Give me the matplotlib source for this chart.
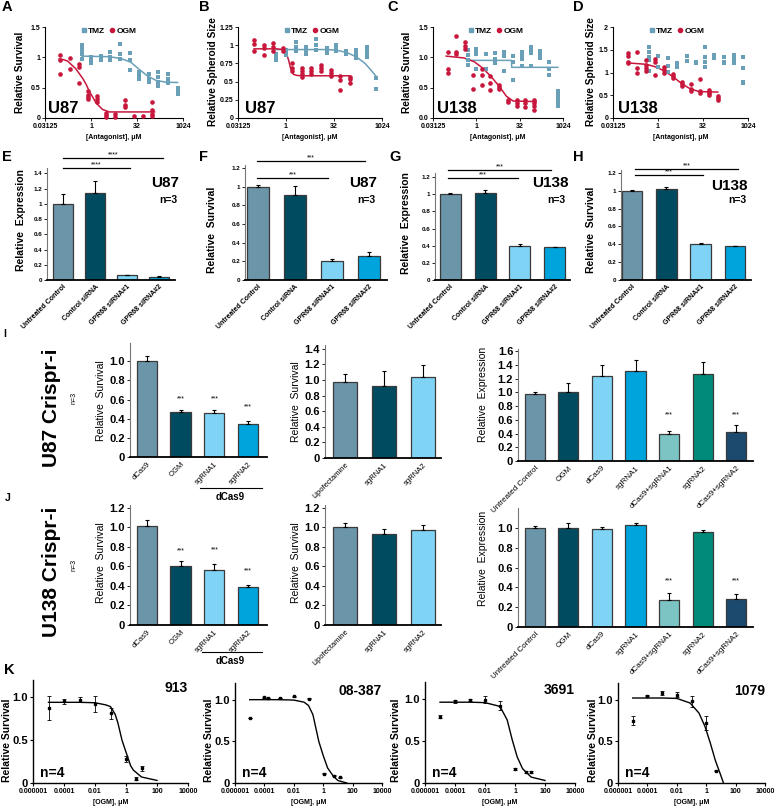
import numpy as np
import matplotlib
matplotlib.use('Agg')
import matplotlib.pyplot as plt
from matplotlib.lines import Line2D
from matplotlib.ticker import NullLocator

plt.rcParams['font.family'] = ['Liberation Sans', 'DejaVu Sans']
plt.rcParams['axes.linewidth'] = 0.8

# ---------------- data: dose response (A-D) ----------------
tmz_dose = [0.5, 1, 2.1, 4.3, 9, 19, 38, 77, 160, 340, 680]
ogm_dose = [0.1, 0.2, 0.39, 0.78, 1.56, 3.1, 6.25, 12.5, 25, 50, 100]

a_tmz = [[1.2, 1.14, 1.11, 1.06, 0.97], [1.0, 0.95, 0.91], [1.03, 0.95], [1.09, 1.0, 0.96],
         [1.22, 1.06, 0.98], [1.07, 0.95, 0.79], [0.76, 0.71, 0.65], [0.73, 0.65, 0.6],
         [0.76, 0.68, 0.6, 0.52], [0.73, 0.65, 0.57], [0.49, 0.43, 0.4]]
a_ogm = [[1.04, 0.96, 0.72], [0.99, 0.81], [0.89, 0.84, 0.57], [0.44, 0.38, 0.35, 0.32],
         [0.37, 0.32, 0.27], [0.09, 0.05, 0.02], [0.06, 0.02], [0.29, 0.22, 0.18],
         [0.03], [0.03], [0.26, 0.14, 0.07, 0.03]]
a_tmz_fit_x = [0.5, 4, 9.6, 20, 38, 72, 134, 284, 680]
a_tmz_fit_y = [1.02, 1.01, 0.98, 0.92, 0.8, 0.69, 0.62, 0.59, 0.585]
a_ogm_fit_x = [0.09, 0.12, 0.17, 0.32, 0.54, 0.7, 0.88, 1.15, 1.45, 2.4, 4, 6, 120]
a_ogm_fit_y = [0.97, 0.965, 0.94, 0.81, 0.65, 0.55, 0.44, 0.34, 0.25, 0.14, 0.1, 0.1, 0.1]

b_tmz = [[0.88, 0.84, 0.79], [0.94, 0.9, 0.86], [1.04, 0.98, 0.92], [0.98, 0.94, 0.88],
         [1.08, 1.0, 0.94], [0.96, 0.93, 0.89], [1.0, 0.96, 0.92], [0.92, 0.88],
         [0.94, 0.88, 0.82], [0.98, 0.94, 0.89, 0.84], [0.55, 0.4]]
b_ogm = [[1.07, 1.02, 0.92], [1.0, 0.96, 0.87], [1.03, 0.98, 0.92], [0.96, 0.92],
         [0.76, 0.69, 0.64], [0.69, 0.64, 0.61, 0.57], [0.69, 0.64, 0.6], [0.73, 0.69, 0.64],
         [0.66, 0.62, 0.58], [0.58, 0.52, 0.38], [0.57, 0.53, 0.48]]
b_tmz_fit_x = [0.5, 20, 40, 80, 160, 300, 500, 680]
b_tmz_fit_y = [0.94, 0.94, 0.93, 0.9, 0.84, 0.75, 0.64, 0.57]
b_ogm_fit_x = [0.1, 0.5, 0.8, 1.0, 1.2, 1.4, 1.7, 2.2, 3, 100]
b_ogm_fit_y = [0.95, 0.95, 0.94, 0.9, 0.8, 0.68, 0.6, 0.585, 0.58, 0.58]

c_tmz = [[1.12, 1.04, 0.96, 0.88], [1.13, 1.1, 1.06, 0.8], [1.06, 0.8], [1.07, 0.98, 0.9],
         [1.08, 1.02, 0.77], [1.02, 0.93, 0.63], [1.08, 1.04, 0.98, 0.85],
         [1.17, 1.13, 1.07, 0.85], [1.1, 1.04, 0.99], [0.93, 0.8, 0.71],
         [0.44, 0.38, 0.33, 0.27, 0.19]]
c_ogm = [[1.08, 0.81, 0.74], [1.35, 1.08, 1.06], [1.26, 1.18, 1.14], [0.71, 0.48],
         [0.8, 0.71, 0.55], [0.7, 0.58, 0.46], [0.55, 0.51, 0.48], [0.3, 0.26],
         [0.3, 0.24, 0.2], [0.3, 0.24, 0.18], [0.3, 0.25, 0.19, 0.14]]
c_tmz_fit_x = [0.5, 16.5, 17, 680]
c_tmz_fit_y = [0.95, 0.95, 0.835, 0.835]
c_ogm_fit_x = [0.09, 0.37, 0.83, 1.6, 3.3, 6.8, 11, 19, 120]
c_ogm_fit_y = [1.02, 0.99, 0.93, 0.83, 0.68, 0.5, 0.36, 0.28, 0.27]

d_tmz = [[1.56, 1.45, 1.35, 1.27, 1.04], [1.36, 1.13], [1.31, 1.15, 1.02], [1.2, 1.13],
         [1.36, 1.26], [1.24, 1.2], [1.56, 1.35, 1.24, 1.13], [1.38, 1.31],
         [1.33, 1.24, 1.2], [1.38, 1.29, 1.2], [1.35, 1.1, 0.8, 0.76]]
d_ogm = [[1.42, 1.36, 1.24, 1.2], [1.44, 1.09, 1.0], [1.27, 1.16, 1.09, 1.04],
         [1.29, 1.24, 0.95], [1.13, 1.05, 1.0], [0.97, 0.92, 0.89], [0.8, 0.74, 0.71],
         [0.75, 0.63, 0.6], [0.85, 0.6, 0.56], [0.62, 0.58, 0.55, 0.51], [0.49, 0.44, 0.39]]
d_ogm_fit_x = [0.1, 0.41, 0.77, 1.47, 3.0, 6.1, 12, 24, 100]
d_ogm_fit_y = [1.21, 1.18, 1.13, 1.05, 0.92, 0.76, 0.64, 0.58, 0.57]

# ---------------- data: siRNA bars (E-H) ----------------
sirna_lbl = ['Untreated Control', 'Control siRNA', 'GPR68 siRNA#1', 'GPR68 siRNA#2']
e_val = [1.0, 1.14, 0.06, 0.04]
e_err = [0.13, 0.16, 0.01, 0.01]
f_val = [1.0, 0.91, 0.2, 0.26]
f_err = [0.02, 0.1, 0.02, 0.04]
g_val = [1.0, 1.01, 0.4, 0.38]
g_err = [0.01, 0.04, 0.02, 0.01]
h_val = [1.0, 1.02, 0.4, 0.38]
h_err = [0.01, 0.02, 0.01, 0.005]

# ---------------- data: CRISPRi bars (I-J) ----------------
crispr_lbl = ['dCas9', 'OGM', 'sgRNA1', 'sgRNA2']
lipo_lbl = ['Lipofectamine', 'sgRNA1', 'sgRNA2']
expr_lbl = ['Untreated Control', 'OGM', 'dCas9', 'sgRNA1', 'dCas9+sgRNA1', 'sgRNA2',
            'dCas9+sgRNA2']
i1_val = [1.0, 0.47, 0.46, 0.34]
i1_err = [0.05, 0.02, 0.03, 0.04]
i2_val = [0.97, 0.93, 1.04]
i2_err = [0.11, 0.19, 0.15]
i3_val = [0.98, 1.01, 1.24, 1.31, 0.40, 1.26, 0.42]
i3_err = [0.02, 0.13, 0.16, 0.16, 0.04, 0.18, 0.11]
j1_val = [1.01, 0.6, 0.56, 0.39]
j1_err = [0.07, 0.06, 0.07, 0.02]
j2_val = [1.0, 0.93, 0.97]
j2_err = [0.05, 0.05, 0.05]
j3_val = [1.0, 1.0, 0.99, 1.03, 0.27, 0.96, 0.28]
j3_err = [0.02, 0.05, 0.02, 0.02, 0.07, 0.02, 0.05]

# ---------------- data: patient lines (K) ----------------
k1_dose = [1e-5, 1e-4, 1e-3, 1e-2, 0.1, 1, 4.6, 10]
k1_mean = [0.87, 0.95, 0.97, 0.92, 0.81, 0.28, 0.05, 0.17]
k1_err = [0.14, 0.03, 0.03, 0.09, 0.06, 0.04, 0.02, 0.03]
k1_fit_x = [1e-5, 1e-3, 1e-2, 0.05, 0.1, 0.2, 0.3, 0.55, 1, 2, 3, 10, 100]
k1_fit_y = [0.94, 0.94, 0.935, 0.91, 0.89, 0.8, 0.7, 0.5, 0.36, 0.2, 0.15, 0.07, 0.03]

k2_dose = [1e-5, 1e-4, 1.9e-4, 1.1e-3, 1e-2, 0.1, 1.1, 5.4, 15]
k2_mean = [0.78, 1.03, 1.02, 1.02, 1.04, 1.01, 0.11, 0.09, 0.07]
k2_err = [0.005, 0.005, 0.005, 0.005, 0.005, 0.005, 0.005, 0.005, 0.005]
k2_fit_x = [1e-5, 1e-3, 1e-2, 0.05, 0.1, 0.2, 0.5, 1, 2, 5, 10, 40]
k2_fit_y = [1.0, 1.0, 0.995, 0.97, 0.93, 0.82, 0.5, 0.33, 0.18, 0.08, 0.03, 0.0]

k3_dose = [1e-5, 1e-4, 1e-3, 1e-2, 0.1, 1, 5.4, 12]
k3_mean = [0.79, 0.97, 0.99, 0.99, 0.92, 0.17, 0.13, 0.13]
k3_err = [0.02, 0.02, 0.01, 0.04, 0.05, 0.01, 0.01, 0.01]
k3_fit_x = [1e-5, 1e-3, 1e-2, 0.1, 0.3, 0.66, 1.4, 3.2, 12, 100]
k3_fit_y = [0.96, 0.96, 0.955, 0.91, 0.75, 0.51, 0.31, 0.17, 0.07, 0.03]

k4_dose = [1e-5, 1e-4, 1e-3, 1e-2, 0.1, 1, 4.5]
k4_mean = [0.75, 1.05, 1.08, 1.06, 0.98, 0.72, 0.15]
k4_err = [0.05, 0.01, 0.02, 0.03, 0.07, 0.08, 0.01]
k4_fit_x = [1e-5, 1e-3, 1e-2, 0.08, 0.32, 0.82, 1.9, 4.2, 9, 15]
k4_fit_y = [1.02, 1.02, 1.015, 0.96, 0.84, 0.68, 0.48, 0.27, 0.11, 0.0]

TMZ_C = '#6a9fb8'
OGM_C = '#c8173c'
C_GREY = '#6b95a8'
C_DARK = '#014b61'
C_LIGHT = '#7fd4f5'
C_BLUE = '#00a4dc'
C_TEAL_L = '#7cc4c4'
C_TEAL = '#008a7a'
C_NAVY = '#1c4a6e'

W, H = 778, 808
fig = plt.figure(figsize=(W / 100, H / 100), dpi=100)


def add_box(l, t, r, b):
    return fig.add_axes([l / W, 1 - b / H, (r - l) / W, (b - t) / H])


def ftext(x, y, s, **kw):
    kw.setdefault('ha', 'center')
    kw.setdefault('va', 'center')
    fig.text(x / W, 1 - y / H, s, **kw)


def fline(x0, x1, y, lw=0.8):
    fig.add_artist(Line2D([x0 / W, x1 / W], [1 - y / H, 1 - y / H], color='k', lw=lw))


def clean(ax):
    for s in ['top', 'right']:
        ax.spines[s].set_visible(False)


def dose_panel(box, tmz_y, ogm_y, fits, ymax, yticks, ytl, cell, leg_x, cell_x):
    ax = add_box(*box)
    for d, ys in zip(tmz_dose, tmz_y):
        ax.scatter([d] * len(ys), ys, marker='s', s=11, color=TMZ_C, lw=0, zorder=3, clip_on=False)
    for d, ys in zip(ogm_dose, ogm_y):
        ax.scatter([d] * len(ys), ys, marker='o', s=11, color=OGM_C, lw=0, zorder=3, clip_on=False)
    for fx, fy, c in fits:
        ax.plot(fx, fy, color=c, lw=1.1, zorder=2)
    ax.set_xscale('log', base=2)
    ax.set_xlim(0.03125, 1024)
    ax.set_xticks([0.03125, 1, 32, 1024])
    ax.set_xticklabels(['0.03125', '1', '32', '1024'], fontsize=5, fontweight='bold')
    ax.xaxis.set_minor_locator(NullLocator())
    ax.set_ylim(0, ymax)
    ax.set_yticks(yticks)
    ax.set_yticklabels(ytl, fontsize=5, fontweight='bold')
    ax.tick_params(length=2, width=0.6, pad=1.5)
    clean(ax)
    ax.set_xlabel('[Antagonist], μM', fontsize=5, fontweight='bold', labelpad=3)
    handles = [Line2D([], [], marker='s', ls='none', color=TMZ_C, ms=3.2),
               Line2D([], [], marker='o', ls='none', color=OGM_C, ms=3.0)]
    ax.legend(handles, ['TMZ', 'OGM'], loc='upper center', bbox_to_anchor=(leg_x, 1.06),
              ncol=2, frameon=False, handletextpad=0.1, columnspacing=0.4,
              handlelength=0.8, borderpad=0.2, prop=dict(weight='bold', size=6))
    ax.text(cell_x, 0.1, cell, transform=ax.transAxes, fontsize=12, fontweight='bold',
            ha='left', va='center')
    return ax


def bar_panel(box, vals, errs, colors, labels, ymax, yticks, ytl, xlim,
              tick_fs, lab_fs, lab_w):
    ax = add_box(*box)
    x = np.arange(len(vals))
    ax.bar(x, vals, width=0.6, color=colors, edgecolor='#3a3a3a', lw=0.9, zorder=2)
    ax.errorbar(x, vals, yerr=[np.zeros(len(vals)), errs], fmt='none', ecolor='k',
                elinewidth=0.8, capsize=1.5, capthick=0.8, zorder=3)
    ax.set_xlim(*xlim)
    ax.set_ylim(0, ymax)
    ax.set_yticks(yticks)
    ax.set_yticklabels(ytl, fontsize=tick_fs, fontweight='bold')
    ax.set_xticks(x)
    ax.set_xticklabels(labels, rotation=45, ha='right', rotation_mode='anchor',
                       fontsize=lab_fs, fontweight=lab_w)
    ax.tick_params(axis='x', length=0, pad=2.5)
    ax.tick_params(axis='y', length=2, width=0.6, pad=1.5)
    clean(ax)
    ax.spines['bottom'].set_linewidth(1.3)
    ax.spines['left'].set_color('#777777')
    return ax


def stars(ax, idx, ys):
    for i, y in zip(idx, ys):
        ax.text(i, y, '***', ha='center', va='center', fontsize=5)


def k_panel(box, dose, mean, err, fx, fy, name):
    ax = add_box(*box)
    ax.errorbar(dose, mean, yerr=err, fmt='s', ms=1.8, color='k', ecolor='k',
                elinewidth=0.6, capsize=1.5, capthick=0.6, zorder=3)
    ax.plot(fx, fy, color='k', lw=1.0)
    ax.set_xscale('log')
    ax.set_xlim(1e-6, 1e4)
    ax.set_xticks([1e-6, 1e-4, 1e-2, 1, 100, 10000])
    ax.set_xticklabels(['0.000001', '0.0001', '0.01', '1', '100', '10000'],
                       fontsize=5, fontweight='bold')
    ax.xaxis.set_minor_locator(NullLocator())
    ax.set_ylim(0, 1.2)
    ax.set_yticks([0, 0.5, 1.0])
    ax.set_yticklabels(['0', '0.5', '1.0'], fontsize=8, fontweight='bold')
    ax.tick_params(length=2.5, width=0.8, pad=1.2)
    clean(ax)
    ax.spines['left'].set_linewidth(1.0)
    ax.spines['bottom'].set_linewidth(1.0)
    ax.set_xlabel('[OGM], μM', fontsize=5, fontweight='bold', labelpad=3)
    ax.text(1.0, 0.92, name, transform=ax.transAxes, ha='right', va='center',
            fontsize=10, fontweight='bold')
    ax.text(0.045, 0.1, 'n=4', transform=ax.transAxes, ha='left', va='center',
            fontsize=10, fontweight='bold')
    return ax


# ---------------- row A-D ----------------
dose_panel((45, 27, 183, 118), a_tmz, a_ogm,
           [(a_tmz_fit_x, a_tmz_fit_y, TMZ_C), (a_ogm_fit_x, a_ogm_fit_y, OGM_C)],
           1.5, [0, 0.5, 1, 1.5], ['0', '0.5', '1', '1.5'], 'U87', 0.46, 0.02)
dose_panel((238, 27, 382, 118), b_tmz, b_ogm,
           [(b_tmz_fit_x, b_tmz_fit_y, TMZ_C), (b_ogm_fit_x, b_ogm_fit_y, OGM_C)],
           1.25, [0, 0.25, 0.5, 0.75, 1, 1.25], ['0', '0.25', '0.5', '0.75', '1', '1.25'],
           'U87', 0.51, 0.05)
dose_panel((433, 27, 563, 118), c_tmz, c_ogm,
           [(c_tmz_fit_x, c_tmz_fit_y, TMZ_C), (c_ogm_fit_x, c_ogm_fit_y, OGM_C)],
           1.5, [0, 0.5, 1.0, 1.5], ['0.0', '0.5', '1.0', '1.5'], 'U138', 0.48, 0.03)
dose_panel((613, 27, 748, 118), d_tmz, d_ogm,
           [(d_ogm_fit_x, d_ogm_fit_y, OGM_C)],
           2, [0, 0.5, 1, 1.5, 2], ['0', '0.5', '1', '1.5', '2'], 'U138', 0.47, 0.04)

ftext(20, 72, 'Relative Survival', rotation=90, fontsize=7.3, fontweight='bold')
ftext(213, 72, 'Relative Spheroid Size', rotation=90, fontsize=7.3, fontweight='bold')
ftext(407, 72, 'Relative Survival', rotation=90, fontsize=7.3, fontweight='bold')
ftext(591, 72, 'Relative Spheroid Size', rotation=90, fontsize=7.3, fontweight='bold')

# ---------------- row E-H ----------------
sirna_col = [C_GREY, C_DARK, C_LIGHT, C_BLUE]
tk12 = [0, 0.2, 0.4, 0.6, 0.8, 1.0, 1.2]
tl12 = ['0', '0.2', '0.4', '0.6', '0.8', '1', '1.2']
bar_panel((47, 168, 175, 280), e_val, e_err, sirna_col, sirna_lbl, 1.47,
          tk12 + [1.4], tl12 + ['1.4'], (-0.5, 3.5), 4.5, 5, 'bold')
bar_panel((245, 165, 387, 280), f_val, f_err, sirna_col, sirna_lbl, 1.23,
          tk12, tl12, (-0.35, 3.49), 4.5, 5, 'bold')
bar_panel((435, 173, 570, 280), g_val, g_err, sirna_col, sirna_lbl, 1.247,
          tk12, tl12, (-0.43, 3.43), 4.5, 5, 'bold')
bar_panel((621, 170, 751, 280), h_val, h_err, sirna_col, sirna_lbl, 1.233,
          tk12, tl12, (-0.32, 3.47), 4.5, 5, 'bold')

ftext(21, 220, 'Relative  Expression', rotation=90, fontsize=7.5, fontweight='bold')
ftext(212, 230, 'Relative  Survival', rotation=90, fontsize=7.5, fontweight='bold')
ftext(406, 223, 'Relative  Expression', rotation=90, fontsize=7.5, fontweight='bold')
ftext(591, 230, 'Relative  Survival', rotation=90, fontsize=7.5, fontweight='bold')

# significance brackets
for x0, x1, y, s in [(63, 163, 158, '****'), (63, 130, 168, '****'),
                     (257, 365, 161, '***'), (257, 328, 178, '***'),
                     (448, 551, 170, '***'), (448, 518, 178, '***'),
                     (635, 738, 169, '***'), (635, 703, 175, '***')]:
    fline(x0, x1, y, lw=0.9)
    ftext((x0 + x1) / 2, y - 3.5, s, fontsize=5)

for x, y, s in [(165, 183, 'U87'), (363, 183, 'U87'), (550, 183, 'U138'), (729, 186, 'U138')]:
    ftext(x, y, s, fontsize=11, fontweight='bold')
for x in [168, 366, 556, 737]:
    ftext(x, 200, 'n=3', fontsize=7.5, fontweight='bold')

# ---------------- row I-J ----------------
crispr_col = [C_GREY, C_DARK, C_LIGHT, C_BLUE]
lipo_col = [C_GREY, C_DARK, C_LIGHT]
expr_col = [C_GREY, C_DARK, C_LIGHT, C_BLUE, C_TEAL_L, C_TEAL, C_NAVY]
tk10 = [0, 0.2, 0.4, 0.6, 0.8, 1.0]
tl10 = ['0', '0.2', '0.4', '0.6', '0.8', '1.0']

ax = bar_panel((130, 343, 267, 457), i1_val, i1_err, crispr_col, crispr_lbl, 1.19,
               tk10, tl10, (-0.5, 3.56), 8, 5.5, 'normal')
stars(ax, [1, 2, 3], [0.61, 0.61, 0.52])
bar_panel((325, 345, 441, 458), i2_val, i2_err, lipo_col, lipo_lbl, 1.45,
          tk10 + [1.2, 1.4], tl10 + ['1.2', '1.4'], (-0.51, 2.46), 8, 5.5, 'normal')
ax = bar_panel((518, 349, 753, 461), i3_val, i3_err, expr_col, expr_lbl, 1.63,
               tk10 + [1.2, 1.4, 1.6], tl10 + ['1.2', '1.4', '1.6'], (-0.5, 6.5), 8, 5.8, 'normal')
stars(ax, [4, 6], [0.67, 0.67])

ax = bar_panel((130, 505, 267, 625), j1_val, j1_err, crispr_col, crispr_lbl, 1.23,
               tk10 + [1.2], tl10 + ['1.2'], (-0.5, 3.56), 8, 5.5, 'normal')
stars(ax, [1, 2, 3], [0.76, 0.77, 0.55])
bar_panel((325, 505, 441, 625), j2_val, j2_err, lipo_col, lipo_lbl, 1.23,
          tk10 + [1.2], tl10 + ['1.2'], (-0.51, 2.46), 8, 5.5, 'normal')
ax = bar_panel((518, 508, 753, 627), j3_val, j3_err, expr_col, expr_lbl, 1.2,
               tk10, tl10, (-0.5, 6.5), 8, 5.8, 'normal')
stars(ax, [4, 6], [0.46, 0.46])

for x, yc in [(101, 401), (296, 402), (101, 563), (296, 563)]:
    ftext(x, yc, 'Relative  Survival', rotation=90, fontsize=7.5)
for x, yc in [(483, 394), (483, 558)]:
    ftext(x, yc, 'Relative  Expression', rotation=90, fontsize=7.5)

fline(200, 262, 488)
ftext(230, 497, 'dCas9', fontsize=7, fontweight='bold')
fline(202, 262, 652)
ftext(230, 661, 'dCas9', fontsize=7, fontweight='bold')

ftext(52, 408, 'U87 Crispr-i', rotation=90, fontsize=15, fontweight='bold')
ftext(74, 398, 'n=3', rotation=90, fontsize=5)
ftext(52, 572, 'U138 Crispr-i', rotation=90, fontsize=15, fontweight='bold')
ftext(74, 565, 'n=3', rotation=90, fontsize=5)

# ---------------- row K ----------------
k_panel((33, 680, 188, 783), k1_dose, k1_mean, k1_err, k1_fit_x, k1_fit_y, '913')
k_panel((235, 683, 382, 783), k2_dose, k2_mean, k2_err, k2_fit_x, k2_fit_y, '08-387')
k_panel((425, 682, 575, 783), k3_dose, k3_mean, k3_err, k3_fit_x, k3_fit_y, '3691')
k_panel((618, 683, 765, 783), k4_dose, k4_mean, k4_err, k4_fit_x, k4_fit_y, '1079')
for x in [7, 209, 396, 593]:
    ftext(x, 740, 'Relative Survival', rotation=90, fontsize=7.5, fontweight='bold')

# ---------------- panel letters ----------------
for x, y, s in [(7, 7, 'A'), (204, 7, 'B'), (393, 7, 'C'), (578, 7, 'D'),
                (7, 157, 'E'), (204, 157, 'F'), (395, 157, 'G'), (578, 157, 'H'),
                (9, 670, 'K')]:
    ftext(x, y, s, fontsize=10.5, fontweight='bold')
ftext(5, 334, 'I', fontsize=7.5, fontweight='bold')
ftext(8, 498, 'J', fontsize=7.5, fontweight='bold')

fig.savefig('out.png', dpi=100)
